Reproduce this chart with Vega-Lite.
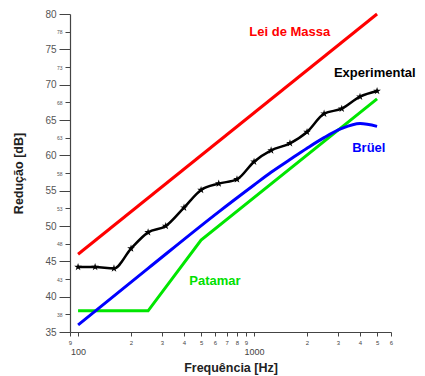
{
  "$schema": "https://vega.github.io/schema/vega-lite/v6.json",
  "autosize": {"type": "none"},
  "padding": {"left": 70, "top": 14, "right": 34, "bottom": 44},
  "width": 321,
  "height": 318,
  "background": "white",
  "config": {"view": {"stroke": null}, "font": "Liberation Sans"},
  "datasets": {
    "lines": [
      {"series": "Lei de Massa", "f": 100, "db": 46},
      {"series": "Lei de Massa", "f": 5000, "db": 80},
      {"series": "Patamar", "f": 100, "db": 38},
      {"series": "Patamar", "f": 250, "db": 38},
      {"series": "Patamar", "f": 500, "db": 48},
      {"series": "Patamar", "f": 5000, "db": 68}
    ],
    "bruel": [
      {"f": 100, "db": 36},
      {"f": 250, "db": 44},
      {"f": 630, "db": 52},
      {"f": 1000, "db": 55.8},
      {"f": 1250, "db": 57.6},
      {"f": 1600, "db": 59.4},
      {"f": 2000, "db": 61.0},
      {"f": 2500, "db": 62.5},
      {"f": 3150, "db": 63.8},
      {"f": 4000, "db": 64.5},
      {"f": 5000, "db": 64.1}
    ],
    "exp": [
      {"f": 100, "db": 44.2},
      {"f": 125, "db": 44.2},
      {"f": 160, "db": 44.0},
      {"f": 200, "db": 46.8},
      {"f": 250, "db": 49.1},
      {"f": 315, "db": 50.0},
      {"f": 400, "db": 52.6},
      {"f": 500, "db": 55.1},
      {"f": 630, "db": 56.0},
      {"f": 800, "db": 56.6},
      {"f": 1000, "db": 59.1},
      {"f": 1250, "db": 60.7},
      {"f": 1600, "db": 61.7},
      {"f": 2000, "db": 63.3},
      {"f": 2500, "db": 65.9},
      {"f": 3150, "db": 66.6},
      {"f": 4000, "db": 68.3},
      {"f": 5000, "db": 69.1}
    ],
    "labels": [
      {"text": "Lei de Massa", "f": 1596, "db": 77.4, "c": "#ff0000"},
      {"text": "Experimental", "f": 4850, "db": 71.6, "c": "#000000"},
      {"text": "Brüel", "f": 4490, "db": 61.0, "c": "#0000ff"},
      {"text": "Patamar", "f": 600, "db": 42.2, "c": "#00e000"}
    ]
  },
  "encoding": {
    "x": {
      "field": "f", "type": "quantitative",
      "scale": {"type": "log", "domain": [90, 6000], "nice": false},
      "axis": {
        "title": "Frequência  [Hz]",
        "titleFontSize": 12.5, "titleFontWeight": "bold", "titleColor": "#222",
        "titlePadding": 5,
        "values": [90, 100, 200, 300, 400, 500, 600, 700, 800, 900, 1000, 2000, 3000, 4000, 5000, 6000],
        "labelExpr": "datum.value == 100 ? '100' : (datum.value == 1000 ? '1000' : substring(toString(datum.value), 0, 1))",
        "labelFontSize": {"condition": {"test": "datum.value == 100 || datum.value == 1000", "value": 9}, "value": 6},
        "labelPadding": {"condition": {"test": "datum.value == 100 || datum.value == 1000", "value": 11}, "value": 3},
        "labelColor": "#444",
        "labelFlush": false,
        "labelOverlap": false,
        "tickSize": 4, "tickColor": "#444",
        "domainColor": "#444", "domainWidth": 1.2,
        "grid": false
      }
    },
    "y": {
      "field": "db", "type": "quantitative",
      "scale": {"domain": [35, 80], "nice": false, "zero": false},
      "axis": {
        "title": "Redução  [dB]",
        "titleFontSize": 12.5, "titleFontWeight": "bold", "titleColor": "#222",
        "titlePadding": 19,
        "values": [35, 37.5, 40, 42.5, 45, 47.5, 50, 52.5, 55, 57.5, 60, 62.5, 65, 67.5, 70, 72.5, 75, 77.5, 80],
        "labelExpr": "datum.value % 5 == 0 ? toString(datum.value) : toString(ceil(datum.value))",
        "labelFontSize": {"condition": {"test": "datum.value % 5 == 0", "value": 10}, "value": 5},
        "tickSize": {"condition": {"test": "datum.value % 5 == 0", "value": 11}, "value": 5},
        "labelPadding": 3,
        "labelColor": "#555",
        "labelOverlap": false,
        "labelFlush": false,
        "tickColor": "#444",
        "domainColor": "#444", "domainWidth": 1.2,
        "grid": false
      }
    }
  },
  "layer": [
    {
      "data": {"name": "lines"},
      "mark": {"type": "line", "strokeWidth": 3},
      "encoding": {
        "color": {
          "field": "series", "type": "nominal",
          "scale": {"domain": ["Lei de Massa", "Patamar"], "range": ["#ff0000", "#00e600"]},
          "legend": null
        }
      }
    },
    {
      "data": {"name": "bruel"},
      "mark": {"type": "line", "strokeWidth": 3, "color": "#0000ff", "interpolate": "monotone"},
      "encoding": {}
    },
    {
      "data": {"name": "exp"},
      "mark": {"type": "line", "strokeWidth": 2.5, "color": "#000000", "interpolate": "monotone"},
      "encoding": {}
    },
    {
      "data": {"name": "exp"},
      "mark": {
        "type": "point", "filled": true, "color": "#000000", "opacity": 1, "size": 65,
        "shape": "M0,-1L0.2245,-0.309L0.951,-0.309L0.363,0.118L0.588,0.809L0,0.382L-0.588,0.809L-0.363,0.118L-0.951,-0.309L-0.2245,-0.309Z"
      },
      "encoding": {}
    },
    {
      "data": {"name": "labels"},
      "mark": {"type": "text", "fontWeight": "bold", "fontSize": 13, "align": "center", "baseline": "middle"},
      "encoding": {
        "text": {"field": "text"},
        "color": {"field": "c", "type": "nominal", "scale": null}
      }
    }
  ]
}
